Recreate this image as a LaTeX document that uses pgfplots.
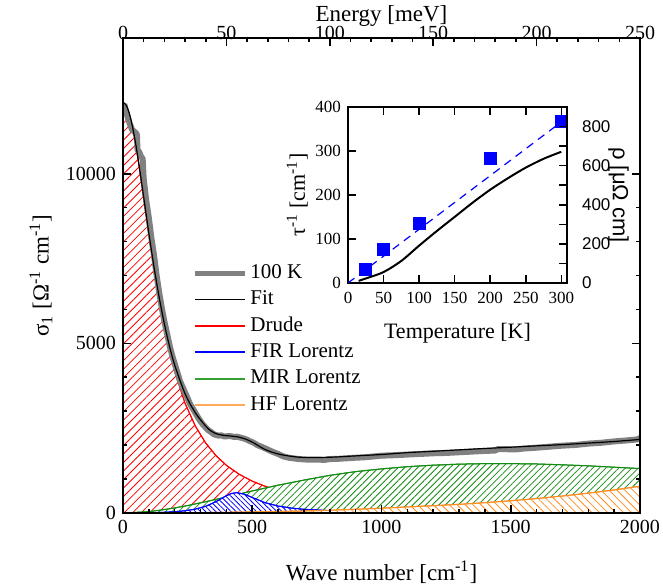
\documentclass[border=0pt]{standalone}
\usepackage{fontspec}
\setmainfont{Liberation Serif}
\setsansfont{Liberation Sans}
\usepackage{pgfplots}
\usepackage{pgfplotstable}
\pgfplotsset{compat=1.18}
\usetikzlibrary{patterns.meta}

\definecolor{drude}{RGB}{255,0,0}
\definecolor{fir}{RGB}{0,0,255}
\definecolor{mir}{RGB}{20,140,20}
\definecolor{mirl}{RGB}{50,160,50}
\definecolor{hf}{RGB}{255,140,30}
\definecolor{hfl}{RGB}{255,170,90}
\definecolor{dat}{RGB}{128,128,128}

\newcommand{\tk}{\fontsize{10bp}{12bp}\selectfont}
\newcommand{\lb}{\fontsize{11.5bp}{13bp}\selectfont}
\newcommand{\itk}{\fontsize{8.5bp}{10bp}\selectfont}
\newcommand{\ilb}{\fontsize{11bp}{13bp}\selectfont}

% Drude term
\pgfplotstableread{
w s
0 12100
10 12043
20 11874
30 11603
40 11244
50 10814
60 10331
70 9813
80 9276
90 8735
100 8200
120 7181
140 6262
160 5456
180 4762
200 4169
240 3235
280 2559
320 2061
360 1689
400 1405
450 1138
500 939
550 786
600 668
700 498
800 385
900 306
1000 249
1200 174
1400 128
1600 99
1800 78
2000 63
}\drude

% far infrared Lorentz
\pgfplotstableread{
w s
0 0
100 7
150 18
200 38
240 66
280 115
320 198
360 335
380 423
400 510
420 576
440 600
470 553
500 455
550 303
600 205
650 146
700 109
800 68
900 47
1000 35
1200 20
1400 14
1600 10
1800 8
2000 6
}\fir

% mid infrared Lorentz
\pgfplotstableread{
w s
0 0
50 20
100 40
150 90
200 150
250 220
300 300
350 385
400 470
450 560
500 650
550 735
600 820
700 970
800 1110
900 1220
1000 1300
1100 1365
1200 1410
1300 1440
1400 1455
1500 1455
1600 1445
1700 1420
1800 1390
1900 1350
2000 1310
}\mir

% high frequency Lorentz
\pgfplotstableread{
w s
0 0
200 5
400 20
600 45
700 60
800 80
900 110
1000 140
1100 180
1200 215
1300 255
1400 305
1500 360
1600 425
1700 500
1800 585
1900 680
2000 790
}\hf

% total fit
\pgfplotstableread{
w s
0 12100
10 12045
20 11880
30 11614
40 11261
50 10837
60 10360
70 9845
80 9314
90 8778
100 8248
120 7247
140 6353
160 5573
180 4910
200 4361
240 3518
280 2953
320 2560
340 2420
360 2340
380 2300
400 2280
420 2265
450 2235
470 2190
500 2090
550 1870
600 1740
650 1672
700 1637
800 1643
900 1683
1000 1724
1100 1779
1200 1819
1300 1861
1400 1902
1500 1939
1600 1979
1700 2016
1800 2061
1900 2107
2000 2169
}\fit

% measured 100 K
\pgfplotstableread{
w s
5 12050
15 11750
25 11500
35 11300
42 11250
50 11200
54 11150
56 10700
62 10650
70 10500
76 10450
80 9850
90 9200
100 8700
110 8100
120 7600
130 7000
140 6500
150 6050
160 5650
170 5300
180 4950
190 4650
200 4400
210 4150
220 3900
230 3720
240 3550
250 3380
260 3200
270 3080
280 2950
290 2820
300 2700
310 2600
320 2520
330 2440
340 2390
350 2330
360 2300
370 2280
380 2290
390 2260
400 2260
410 2270
420 2260
430 2240
440 2250
450 2230
460 2210
470 2190
480 2160
490 2120
500 2090
510 2050
520 2000
540 1940
560 1870
580 1800
600 1740
620 1670
640 1630
660 1610
680 1590
700 1580
720 1570
750 1575
780 1565
800 1590
830 1595
860 1610
900 1630
930 1640
960 1660
1000 1690
1040 1700
1080 1715
1120 1730
1160 1745
1200 1760
1250 1770
1300 1790
1350 1810
1400 1830
1440 1840
1450 1885
1480 1880
1520 1875
1550 1900
1600 1925
1650 1955
1700 1985
1750 2005
1800 2045
1850 2070
1900 2110
1950 2140
1990 2170
2000 2210
}\meas

\begin{document}
\begin{tikzpicture}
\useasboundingbox (-61.5bp,-36.5bp) rectangle (270bp,256.5bp);

% top energy axis
\begin{axis}[
    scale only axis,
    width=258.5bp, height=237.5bp,
    xmin=0, xmax=250,
    axis x line*=top,
    axis y line=none,
    xtick={0,50,...,250},
    minor x tick num=4,
    tick align=inside,
    major tick length=4bp, minor tick length=2bp,
    xlabel={Energy [meV]},
    xlabel style={font=\lb, at={(axis description cs:0.5,1)}, anchor=base, yshift=8bp},
    xticklabel shift=-4.5bp,
    /pgf/number format/assume math mode=true,
    tick label style={font=\tk},
    axis line style={line width=0.8pt},
    tick style={line width=0.8pt, black},
]
\addplot[draw=none] coordinates {(0,0) (250,1)};
\end{axis}

% main axis
\begin{axis}[
    scale only axis,
    width=258.5bp, height=237.5bp,
    xmin=0, xmax=2000,
    ymin=0, ymax=14000,
    xtick={0,500,...,2000},
    ytick={0,5000,10000},
    scaled y ticks=false,
    minor x tick num=4,
    minor y tick num=4,
    xtick pos=bottom,
    major tick length=4bp, minor tick length=2bp,
    axis on top,
    xlabel={Wave number [cm\textsuperscript{-1}]},
    ylabel={σ\textsubscript{1} [Ω\textsuperscript{-1} cm\textsuperscript{-1}]},
    xlabel style={font=\lb, yshift=-7bp},
    ylabel style={font=\lb},
    /pgf/number format/assume math mode=true,
    /pgf/number format/1000 sep={},
    tick label style={font=\tk},
    axis line style={line width=0.8pt},
    tick style={line width=0.8pt, black},
    legend style={at={(0.1335,0.533)}, anchor=north west, draw=none, fill=none,
        inner sep=0pt, row sep=0.2bp,
        nodes={inner sep=1.5bp, text height=7.5bp, text depth=2.5bp},
        font=\fontsize{10.5bp}{12bp}\selectfont},
    legend cell align=left,
    legend image code/.code={\draw[#1] (0bp,0bp) -- (25bp,0bp);},
]
\addplot[forget plot, drude, line width=0.5pt, preaction={fill=white},
    pattern={Lines[angle=45, distance=3bp, line width=0.4pt]}, pattern color=drude]
    table[x=w, y=s] {\drude} \closedcycle;
\addplot[forget plot, mir, line width=0.5pt, preaction={fill=white},
    pattern={Lines[angle=45, distance=2.3bp, line width=0.4pt]}, pattern color=mir]
    table[x=w, y=s] {\mir} \closedcycle;
\addplot[forget plot, fir, line width=0.5pt, preaction={fill=white},
    pattern={Lines[angle=-45, distance=1.8bp, line width=0.4pt]}, pattern color=fir]
    table[x=w, y=s] {\fir} \closedcycle;
\addplot[forget plot, hf, line width=0.5pt, preaction={fill=white},
    pattern={Lines[angle=-45, distance=2.8bp, line width=0.4pt]}, pattern color=hf]
    table[x=w, y=s] {\hf} \closedcycle;
\addplot[forget plot, dat, line width=3bp, line join=round] table[x=w, y=s] {\meas};
\addplot[forget plot, black, line width=0.6pt, smooth] table[x=w, y=s] {\fit};

\addlegendimage{color=dat, line width=2.5bp}
\addlegendentry{100 K}
\addlegendimage{color=black, line width=0.8bp}
\addlegendentry{Fit}
\addlegendimage{color=drude, line width=1bp}
\addlegendentry{Drude}
\addlegendimage{color=fir, line width=1bp}
\addlegendentry{FIR Lorentz}
\addlegendimage{color=mirl, line width=1bp}
\addlegendentry{MIR Lorentz}
\addlegendimage{color=hfl, line width=1bp}
\addlegendentry{HF Lorentz}
\end{axis}

% inset: scattering rate
\begin{axis}[
    at={(112.5bp,115bp)}, anchor=south west,
    scale only axis,
    width=109.5bp, height=88bp,
    xmin=0, xmax=308,
    ymin=0, ymax=400,
    xtick={0,50,...,300},
    ytick={0,100,...,400},
    ytick pos=left,
    tick align=inside,
    major tick length=4bp,
    xlabel={Temperature [K]},
    ylabel={τ\textsuperscript{-1} [cm\textsuperscript{-1}]},
    xlabel style={font=\ilb, yshift=-3bp},
    ylabel style={font=\ilb, yshift=-3bp},
    /pgf/number format/assume math mode=true,
    tick label style={font=\itk},
    xticklabel shift=1bp,
    axis line style={line width=1pt},
    tick style={line width=0.8pt, black},
]
\addplot[fir, dashed, line width=0.6pt, dash pattern=on 4bp off 3bp] coordinates {(0,0) (300,366)};
\addplot[only marks, mark=square*, mark size=3bp, fir] coordinates {
    (25,30) (50,77) (100,136) (200,284) (300,368)
};
\end{axis}

% inset: resistivity
\begin{axis}[
    at={(112.5bp,115bp)}, anchor=south west,
    scale only axis,
    width=109.5bp, height=88bp,
    xmin=0, xmax=308,
    ymin=0, ymax=900,
    clip=false,
    axis x line=none,
    axis y line*=right,
    ytick={0,200,...,800},
    minor ytick={100,300,500,700},
    tick align=inside,
    major tick length=4bp, minor tick length=4bp,
    /pgf/number format/assume math mode=true,
    yticklabel style={font=\sffamily\itk},
    yticklabel shift=4bp,
    axis line style={line width=1pt},
    tick style={line width=0.8pt, black},
]
\addplot[black, line width=1pt, smooth] coordinates {
    (15,11) (25,23) (50,56) (75,113) (100,191) (125,266) (150,338)
    (175,410) (200,477) (225,536) (250,590) (275,635) (300,671)
};
\node[rotate=-90, anchor=center, font=\sffamily\fontsize{11bp}{13bp}\selectfont]
    at (axis description cs:1.235,0.5) {ρ [μΩ cm]};
\end{axis}
\end{tikzpicture}
\end{document}
